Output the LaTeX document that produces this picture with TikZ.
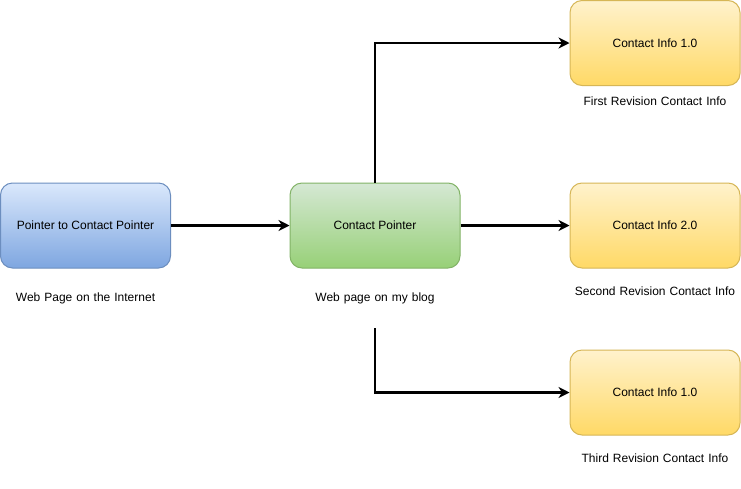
\documentclass[tikz,border=0pt]{standalone}
\usepackage{fontspec}
\setmainfont{Liberation Sans}
\usetikzlibrary{arrows.meta}
\definecolor{blueTop}{HTML}{DAE8FC}
\definecolor{blueBot}{HTML}{7EA6E0}
\definecolor{blueLine}{HTML}{6C8EBF}
\definecolor{greenTop}{HTML}{D5E8D4}
\definecolor{greenBot}{HTML}{97D077}
\definecolor{greenLine}{HTML}{82B366}
\definecolor{yellowTop}{HTML}{FFF2CC}
\definecolor{yellowBot}{HTML}{FFD966}
\definecolor{yellowLine}{HTML}{D6B656}
\tikzset{
  pagebox/.style={rounded corners=12pt, line width=1pt, minimum width=170pt,
    minimum height=85pt, inner sep=0pt, align=center,
    font=\fontsize{12}{14}\selectfont},
  bluebox/.style={pagebox, draw=blueLine, top color=blueTop, bottom color=blueBot},
  greenbox/.style={pagebox, draw=greenLine, top color=greenTop, bottom color=greenBot},
  yellowbox/.style={pagebox, draw=yellowLine, top color=yellowTop, bottom color=yellowBot},
  caption/.style={inner sep=0pt, text width=170pt, align=center,
    font=\fontsize{12}{14}\selectfont},
  link/.style={line width=2.6pt, -{Stealth[length=11pt, width=11pt, inset=3.5pt]}}
}
\begin{document}
\begin{tikzpicture}[x=1pt, y=-1pt]
  \useasboundingbox[fill=white] (0,0) rectangle (741,488);

  % boxes
  \node[bluebox] (ptr) at (85.5,225.5) {Pointer to Contact Pointer};
  \node[greenbox] (cp) at (375,225.5) {Contact Pointer};
  \node[yellowbox] (v1) at (655,43) {Contact Info 1.0};
  \node[yellowbox] (v2) at (655,225.5) {Contact Info 2.0};
  \node[yellowbox] (v3) at (655,392.5) {Contact Info 1.0};

  % captions
  \node[caption] (ptrcap) at (85.5,298) {Web Page on the Internet};
  \node[caption, minimum height=60pt] (cpcap) at (375,298) {Web page on my blog};
  \node[caption] (v1cap) at (655,101) {First Revision Contact Info};
  \node[caption] (v2cap) at (655,291) {Second Revision Contact Info};
  \node[caption] (v3cap) at (655,458) {Third Revision Contact Info};

  % connectors
  \draw[link] (ptr.east) -- (cp.west);
  \draw[link] (cp.north) |- (v1.west);
  \draw[link] (cp.east) -- (v2.west);
  \draw[link] (cpcap.south) |- (v3.west);
\end{tikzpicture}
\end{document}
